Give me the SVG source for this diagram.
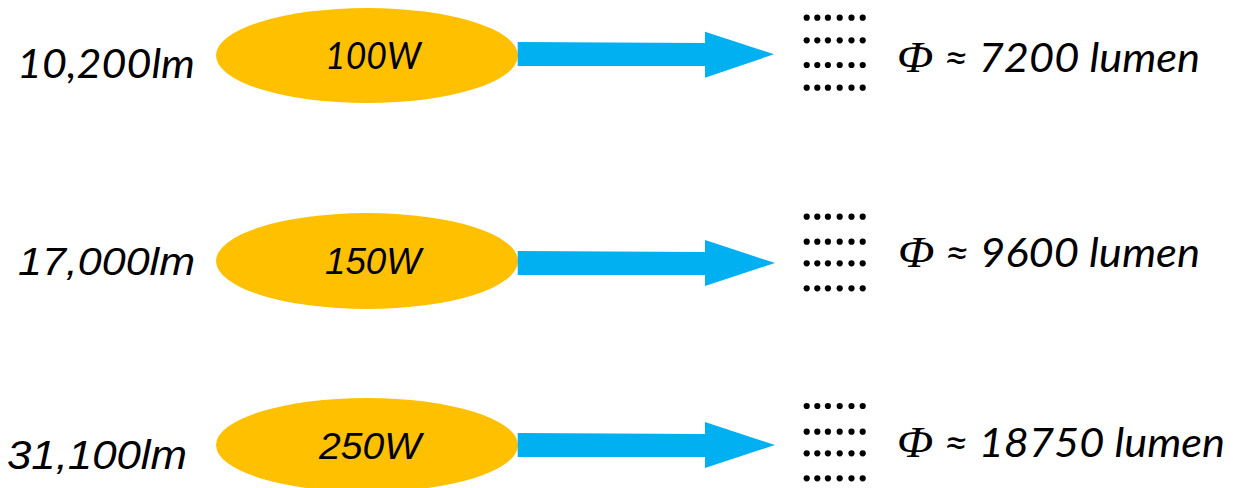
<svg xmlns="http://www.w3.org/2000/svg" width="1233" height="488" viewBox="0 0 1233 488">
  <defs>
    <style>
      .lamp { fill: #FFC000; }
      .beam { fill: #00B0F0; }
      .dot { fill: #000; }
      .calib { font-family: Lato, "Open Sans", "Liberation Sans", sans-serif; font-style: italic; fill: #000; }
      .arial { font-family: "Liberation Sans", Arial, sans-serif; font-style: italic; fill: #000; }
      .phi { font-family: "Liberation Serif", "DejaVu Serif", serif; font-style: italic; font-size: 44px; }
    </style>
    <!-- one row of six dots, reused for each detector grid -->
    <g id="dotrow">
      <circle class="dot" cx="806.7" cy="0" r="3.1"/>
      <circle class="dot" cx="817.3" cy="0" r="3.1"/>
      <circle class="dot" cx="827.9" cy="0" r="3.1"/>
      <circle class="dot" cx="839.7" cy="0" r="3.1"/>
      <circle class="dot" cx="851.5" cy="0" r="3.1"/>
      <circle class="dot" cx="862.7" cy="0" r="3.1"/>
    </g>
  </defs>
  <rect width="1233" height="488" fill="#fff"/>

  <!-- lamp 1 -->
  <g id="lamp100">
    <text class="calib" x="17" y="78" font-size="41" textLength="178" lengthAdjust="spacingAndGlyphs">10,200lm</text>
    <ellipse class="lamp" cx="367" cy="55.5" rx="151" ry="47.5"/>
    <text class="calib" x="325" y="69" font-size="37" textLength="96" lengthAdjust="spacingAndGlyphs">100W</text>
  </g>

  <!-- lamp 2 -->
  <g id="lamp150">
    <text class="arial" x="18" y="275" font-size="38" textLength="177" lengthAdjust="spacingAndGlyphs">17,000lm</text>
    <ellipse class="lamp" cx="367" cy="261" rx="151" ry="48"/>
    <text class="arial" x="325" y="273.5" font-size="36" textLength="96" lengthAdjust="spacingAndGlyphs">150W</text>
  </g>

  <!-- lamp 3 -->
  <g id="lamp250">
    <text class="arial" x="7" y="469" font-size="41" textLength="180" lengthAdjust="spacingAndGlyphs">31,100lm</text>
    <ellipse class="lamp" cx="367" cy="445" rx="151" ry="47"/>
    <text class="arial" x="319" y="458.5" font-size="37" textLength="102" lengthAdjust="spacingAndGlyphs">250W</text>
  </g>

  <!-- detector grids and flux readings -->
  <g id="detector1">
    <use href="#dotrow" y="17.7"/>
    <use href="#dotrow" y="40.3"/>
    <use href="#dotrow" y="65"/>
    <use href="#dotrow" y="87.7"/>
    <text class="calib" x="897" y="71.7" font-size="40" textLength="303" lengthAdjust="spacingAndGlyphs"><tspan class="phi">Φ</tspan> ≈ 7200 lumen</text>
  </g>
  <g id="detector2">
    <use href="#dotrow" y="216.7"/>
    <use href="#dotrow" y="241.7"/>
    <use href="#dotrow" y="263.3"/>
    <use href="#dotrow" y="288.3"/>
    <text class="calib" x="898" y="266.7" font-size="40" textLength="302" lengthAdjust="spacingAndGlyphs"><tspan class="phi">Φ</tspan> ≈ 9600 lumen</text>
  </g>
  <g id="detector3">
    <use href="#dotrow" y="406"/>
    <use href="#dotrow" y="431.7"/>
    <use href="#dotrow" y="453.3"/>
    <use href="#dotrow" y="478.3"/>
    <text class="calib" x="897" y="456.7" font-size="40" textLength="328" lengthAdjust="spacingAndGlyphs"><tspan class="phi">Φ</tspan> ≈ 18750 lumen</text>
  </g>

  <!-- block arrows from each lamp to its detector -->
  <g id="connectors">
    <polygon class="beam" points="517.7,42 705,43 705,31.7 774,54.3 705,77.7 705,66 517.7,66"/>
    <polygon class="beam" points="517.7,251 705,252 705,240 775,263 705,286 705,275 517.7,275"/>
    <polygon class="beam" points="517.7,433 705,434 705,422 775,445 705,468 705,457 517.7,457"/>
  </g>
</svg>
